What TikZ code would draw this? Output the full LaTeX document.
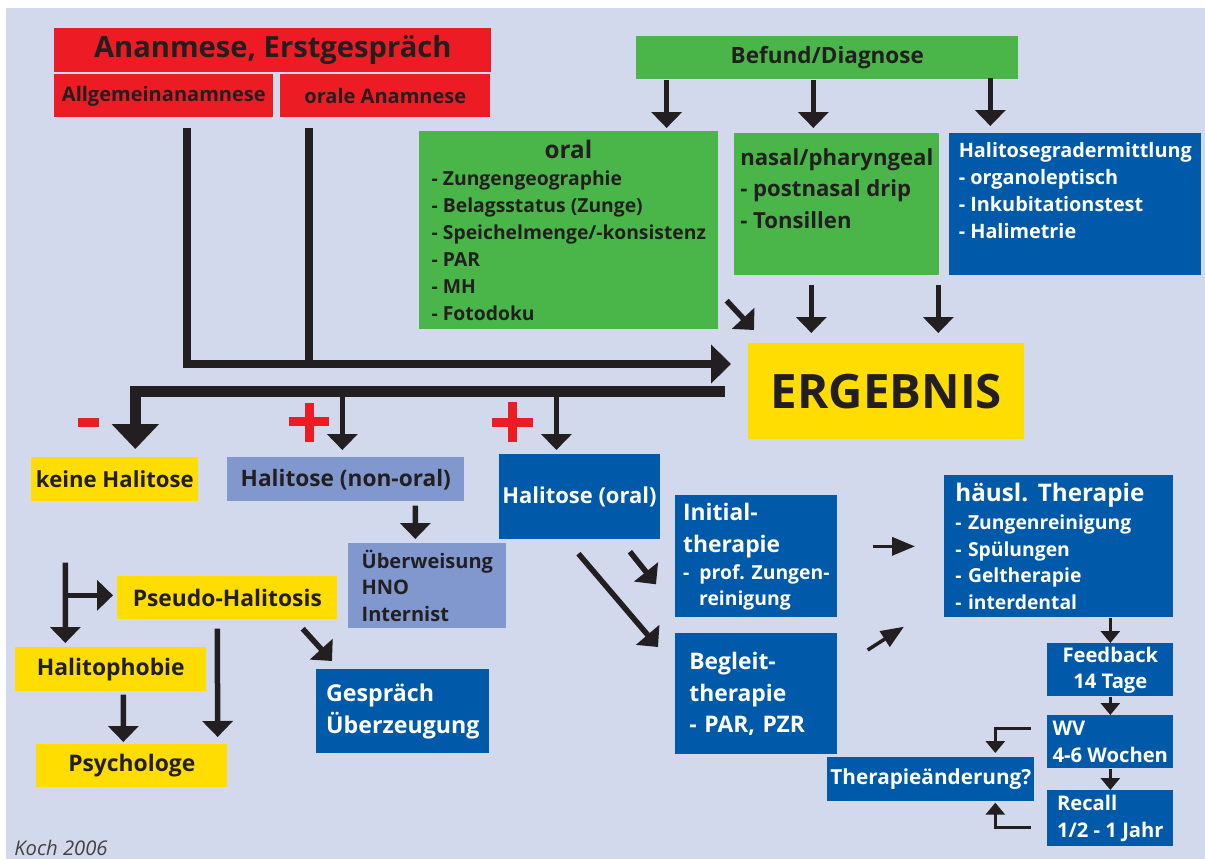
\documentclass[tikz,border=0pt]{standalone}
\usepackage{fontspec}
\setmainfont{Open Sans}
\usetikzlibrary{arrows.meta}
\definecolor{hbg}{HTML}{D3D9EC}
\definecolor{hred}{HTML}{ED1C24}
\definecolor{hgreen}{HTML}{4AB649}
\definecolor{hblue}{HTML}{005AA9}
\definecolor{hyellow}{HTML}{FFDD00}
\definecolor{hlilac}{HTML}{8198CE}
\definecolor{hdark}{HTML}{231F20}
\newcommand{\setfs}[2]{\bfseries\fontsize{#1}{#2}\selectfont}
\tikzstyle{box} = [rectangle, anchor=north west, inner sep=0.06cm, text=hdark]
\tikzstyle{redbox} = [box, fill=hred]
\tikzstyle{greenbox} = [box, fill=hgreen]
\tikzstyle{bluebox} = [box, fill=hblue, text=white]
\tikzstyle{yellowbox} = [box, fill=hyellow]
\tikzstyle{lilacbox} = [box, fill=hlilac]
\tikzstyle{arrow} = [draw=hdark, line width=0.11cm, -{Triangle[width=0.6cm,length=0.32cm]}]
\tikzstyle{thinarrow} = [draw=hdark, line width=0.07cm, -{Triangle[width=0.36cm,length=0.46cm]}]
\tikzstyle{smallarrow} = [draw=hdark, line width=0.06cm, -{Triangle[width=0.38cm,length=0.24cm]}]
\tikzstyle{bigarrow} = [draw=hdark, line width=0.16cm, -{Triangle[width=0.76cm,length=0.4cm]}]
\tikzstyle{bigline} = [draw=hdark, line width=0.16cm]
\tikzstyle{hugearrow} = [draw=hdark, line width=0.22cm, -{Triangle[width=0.92cm,length=0.5cm]}]
\tikzstyle{redsign} = [draw=hred, line width=0.18cm]

\begin{document}
\begin{tikzpicture}[x=0.02cm, y=-0.02cm]
    \useasboundingbox (0,0) rectangle (1205,859);
    \fill[hbg] (6,8) rectangle (1205,859);

    % Anamnese
    \node (anam) [redbox, minimum width=8.74cm, minimum height=0.88cm, font=\setfs{16.6}{18}] at (54,28) {Ananmese, Erstgespräch};
    \node (allg) [redbox, minimum width=4.38cm, minimum height=0.86cm, font=\setfs{11.4}{14}] at (54,74) {Allgemeinanamnese};
    \node (orale) [redbox, minimum width=4.2cm, minimum height=0.86cm, font=\setfs{11.4}{14}] at (280,74) {orale Anamnese};

    % Befund
    \node (befund) [greenbox, minimum width=7.64cm, minimum height=0.86cm, font=\setfs{12.8}{15}] at (636,36) {Befund/Diagnose};
    \node (oral) [greenbox, minimum width=5.98cm, minimum height=3.96cm, align=left, font=\setfs{11}{15.4}] at (419,131) {\hspace*{2.26cm}{\setfs{13.8}{15.4}oral}\\- Zungengeographie\\- Belagsstatus (Zunge)\\- Speichelmenge/-konsistenz\\- PAR\\- MH\\- Fotodoku};
    \node (nasal) [greenbox, minimum width=4.1cm, minimum height=2.84cm, align=left, font=\setfs{12.6}{18}] at (734,133) {nasal/pharyngeal\\- postnasal drip\\- Tonsillen\\ \mbox{}};
    \node (grad) [bluebox, minimum width=5.04cm, minimum height=2.84cm, align=left, font=\setfs{11.3}{15.4}] at (949,133) {Halitosegradermittlung\\- organoleptisch\\- Inkubitationstest\\- Halimetrie\\ \mbox{}};
    \node (ergeb) [yellowbox, minimum width=5.52cm, minimum height=1.92cm, font=\setfs{27}{30}] at (748,343) {ERGEBNIS};

    % Ergebnisse
    \node (keine) [yellowbox, minimum width=3.34cm, minimum height=0.88cm, font=\setfs{12.6}{15}] at (31,457) {keine Halitose};
    \node (nonoral) [lilacbox, minimum width=4.74cm, minimum height=0.88cm, font=\setfs{12.9}{15}] at (227,457) {Halitose (non-oral)};
    \node (ueberw) [lilacbox, minimum width=3.16cm, minimum height=1.7cm, align=left, font=\setfs{11.4}{15.2}] at (348,543) {Überweisung\\HNO\\Internist};
    \node (oralh) [bluebox, minimum width=3.16cm, minimum height=1.7cm, font=\setfs{12.5}{15}] at (499,454) {Halitose (oral)};
    \node (pseudo) [yellowbox, minimum width=4.4cm, minimum height=0.86cm, font=\setfs{13}{15}] at (117,576) {Pseudo-Halitosis};
    \node (phobie) [yellowbox, minimum width=3.82cm, minimum height=0.88cm, font=\setfs{13}{15}] at (15,647) {Halitophobie};
    \node (psych) [yellowbox, minimum width=3.82cm, minimum height=0.86cm, font=\setfs{13}{15}] at (36,744) {Psychologe};
    \node (gespr) [bluebox, minimum width=3.46cm, minimum height=1.68cm, align=left, font=\setfs{13.2}{18.2}] at (316,669) {Gespräch\\Überzeugung};

    % Therapie
    \node (initial) [bluebox, minimum width=3.24cm, minimum height=2.44cm, align=left, font=\setfs{13}{18.2}] at (675,495) {Initial-\\therapie\\[-2.8pt]{\setfs{11}{15}-\ \ prof. Zungen-}\\[-3.4pt]{\setfs{11}{15}\hspace*{0.32cm}reinigung}};
    \node (begleit) [bluebox, minimum height=2.42cm, inner xsep=0.28cm, text width=2.68cm, align=left, font=\setfs{13}{18}] at (675,633) {Begleit-\\therapie\\- PAR, PZR};
    \node (haeusl) [bluebox, minimum height=2.84cm, inner xsep=0.22cm, text width=4.14cm, align=left, font=\setfs{11}{15.1}] at (944,475) {{\setfs{13.8}{15.1}häusl. Therapie}\\[0.9pt]- Zungenreinigung\\- Spülungen\\- Geltherapie\\- interdental};
    \node (feedb) [bluebox, minimum width=2.52cm, minimum height=1.06cm, align=center, font=\setfs{11.5}{14.8}] at (1047,643) {Feedback\\14 Tage};
    \node (wv) [bluebox, minimum width=2.52cm, minimum height=1.06cm, align=left, font=\setfs{11.5}{15.4}] at (1047,715) {WV\\4-6 Wochen};
    \node (recall) [bluebox, minimum width=2.52cm, minimum height=1.12cm, align=left, font=\setfs{11.5}{15.4}] at (1047,790) {Recall\\1/2 - 1 Jahr};
    \node (aender) [bluebox, minimum width=4.14cm, minimum height=0.88cm, font=\setfs{11.8}{14}] at (827,757) {Therapieänderung?};

    \node (koch) [anchor=west, inner sep=0pt, text=hdark!85, font=\fontsize{11.5}{14}\selectfont\itshape] at (14,848) {Koch 2006};

    % Befund arrows
    \draw[arrow] ([shift={(-52,0)}]oral.north east |- befund.south) -- ([shift={(-52,-3)}]oral.north east);
    \draw[arrow] ([shift={(-23.5,0)}]nasal.north |- befund.south) -- ([shift={(-23.5,-5)}]nasal.north);
    \draw[arrow] ([shift={(-85,-2)}]grad.north |- befund.south) -- ([shift={(-85,-7)}]grad.north);

    % into ERGEBNIS
    \draw[arrow] ([shift={(8,-29)}]oral.south east) -- ([shift={(6,-13)}]ergeb.north west);
    \draw[arrow] ([shift={(-25.5,9)}]nasal.south) -- ([shift={(-25.5,-10)}]nasal.south |- ergeb.north);
    \draw[arrow] ([shift={(-137,9)}]grad.south) -- ([shift={(-137,-10)}]grad.south |- ergeb.north);

    \coordinate (ergebin) at ([shift={(-17,21)}]ergeb.north west);
    \draw[bigarrow] ([shift={(23.5,10)}]allg.south) |- (ergebin);
    \draw[bigline] ([shift={(-76,10)}]orale.south) -- ([shift={(-76,0)}]orale.south |- ergebin);

    % out of ERGEBNIS
    \draw[hugearrow] ([shift={(-23,0)}]ergeb.west) -| ([shift={(20.5,-8)}]keine.north);
    \draw[arrow] ([shift={(-3.5,0)}]nonoral.north |- ergeb.west) -- ([shift={(-3.5,-7)}]nonoral.north);
    \draw[arrow] ([shift={(-23,0)}]oralh.north |- ergeb.west) -- ([shift={(-23,-4)}]oralh.north);

    \draw[redsign] (78,422) -- (99,422);
    \draw[redsign] (289,421.5) -- (329,421.5) (309,403) -- (309,442);
    \draw[redsign] (492,422.5) -- (533,422.5) (512.5,402) -- (512.5,442);

    \draw[arrow] ([shift={(69.5,4)}]nonoral.south) -- ([shift={(-12,-4)}]ueberw.north);

    % keine Halitose
    \draw[arrow] ([shift={(-49.5,61)}]keine.south) -- ([shift={(-45.5,-4)}]phobie.north);
    \draw[arrow] ([shift={(-52,-2.5)}]pseudo.west) -- ([shift={(-4,-2.5)}]pseudo.west);
    \draw[arrow] ([shift={(12.5,3)}]phobie.south) -- ([shift={(-8.5,-2)}]psych.north);
    \draw[arrow] ([shift={(-10,9)}]pseudo.south) -- ([shift={(-10,-7)}]psych.north east);
    \draw[arrow] ([shift={(-35,9)}]pseudo.south east) -- ([shift={(16,-8)}]gespr.north west);

    % Halitose (oral)
    \draw[arrow] ([shift={(-30,12)}]oralh.south east) -- ([shift={(-19,28)}]initial.west);
    \draw[arrow] ([shift={(-1,14)}]oralh.south) -- ([shift={(-17,14)}]begleit.north west);
    \draw[thinarrow] ([shift={(35,0)}]initial.east |- haeusl.west) -- ([shift={(-29,0)}]haeusl.west);
    \draw[thinarrow] ([shift={(30,17)}]begleit.north east) -- ([shift={(-40,9)}]haeusl.south west);

    \draw[smallarrow] (haeusl.south -| feedb.north) -- (feedb.north);
    \draw[smallarrow] (feedb.south) -- (wv.north);
    \draw[smallarrow] (wv.south) -- (recall.north);
    \draw[smallarrow] ([shift={(-16,-13.5)}]wv.west) -| ([shift={(64.5,-4)}]aender.north);
    \draw[smallarrow] ([shift={(-16,9)}]recall.west) -| ([shift={(64.5,1)}]aender.south);

\end{tikzpicture}
\end{document}
